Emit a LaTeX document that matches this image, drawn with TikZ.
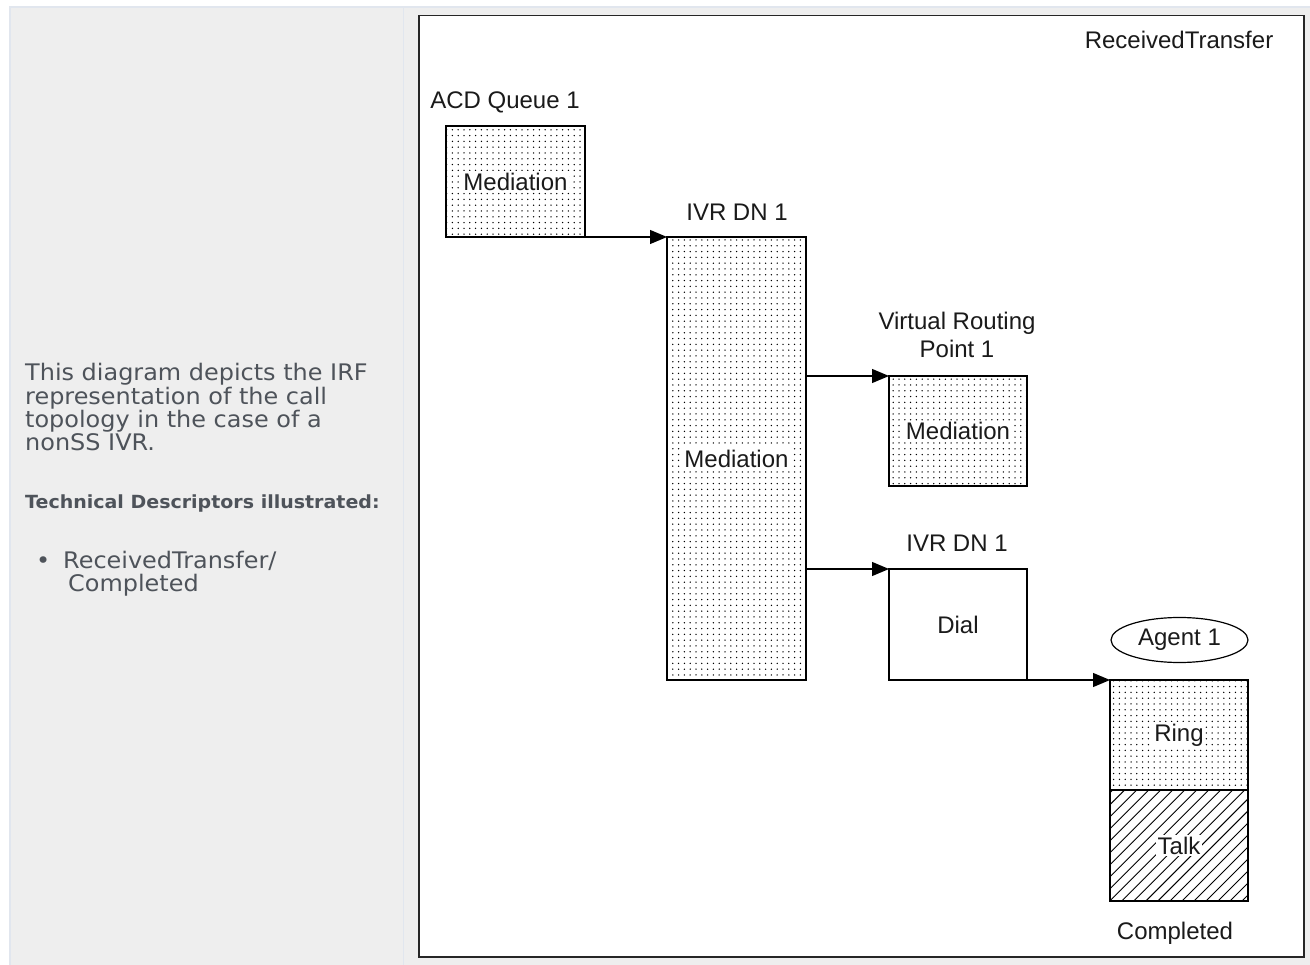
\documentclass[tikz,border=0pt]{standalone}
\usepackage{fontspec}
\setmainfont{Liberation Sans}
\newfontfamily\sidefont{DejaVu Sans}[FakeStretch=1.05]
\usetikzlibrary{positioning,patterns.meta,shapes.geometric,arrows.meta}
\definecolor{cellbg}{HTML}{EEEEEE}
\definecolor{cellline}{HTML}{E1E6EE}
\definecolor{sidetext}{HTML}{4E535A}
\definecolor{inktext}{HTML}{1A1A1A}
\tikzset{
  dn/.style={draw, line width=1.3pt, inner sep=0pt, outer sep=0pt, minimum width=138pt},
  dotdn/.style={dn, pattern={Dots[distance=5.8pt, radius=0.75pt]}},
  hatchdn/.style={dn, pattern={Lines[angle=45, distance=8.5pt, line width=0.9pt]}},
  lbl/.style={font=\fontsize{24}{28}\selectfont, text=inktext, align=center, inner sep=0pt},
  state/.style={lbl, fill=white, inner sep=1.5pt},
  flow/.style={-{Triangle[length=17pt, width=14pt]}, line width=1.2pt},
  sidebody/.style={font=\sidefont\fontsize{22.8}{23.3}\selectfont, text=sidetext, inner sep=0pt, anchor=base west},
}
\begin{document}
\begin{tikzpicture}[x=1pt, y=-1pt]
  \useasboundingbox (0,0) rectangle (1310,965);
  % page and the two table cells
  \fill[white] (0,0) rectangle (1310,965);
  \fill[cellbg] (10,7) rectangle (1310,965);
  \draw[cellline, line width=1.5pt] (10,965) -- (10,7) -- (1310,7);
  \draw[cellline, line width=1.5pt] (403.5,7) -- (403.5,965);
  % side description
  \foreach \y/\txt [count=\i] in {381/This diagram depicts the IRF,
      404.3/representation of the call, 427.6/topology in the case of a,
      450.9/nonSS IVR.}{
    \node[sidebody] (intro\i) at (25,\y) {\txt};
  }
  \node[sidebody, font=\sidefont\bfseries\fontsize{18.1}{20}\selectfont] (techhead) at (25,508.5) {Technical Descriptors illustrated:};
  \node[sidebody] (bullet) at (36,568) {•};
  \node[sidebody] (desc1) at (63,568) {ReceivedTransfer/};
  \node[sidebody] (desc2) at (68,591.5) {Completed};
  % diagram frame
  \fill[white] (419,15.5) rectangle (1304,957);
  \draw[line width=1.6pt, black!85] (419,15.5) rectangle (1304,957);
  \node[lbl] (rtitle) at (1179,40) {ReceivedTransfer};
  % parties
  \node[dotdn, minimum width=139pt, minimum height=111pt] (acd) at (515.5,181.5) {};
  \node[dotdn, minimum width=139pt, minimum height=443pt] (ivr) at (736.5,458.5) {};
  \node[dotdn, minimum height=110pt] (vrp) at (958,431) {};
  \node[dn, minimum height=111pt] (dial) at (958,624.5) {};
  \node[dotdn, minimum height=110pt] (ring) at (1179,735) {};
  \node[hatchdn, minimum height=111pt, below=0pt of ring] (talk) {};
  \node[draw, ellipse, line width=1.2pt, minimum width=137pt, minimum height=45pt,
        inner sep=0pt, font=\fontsize{24}{28}\selectfont, text=inktext] (agent) at (1179.5,640) {Agent 1};
  % party names
  \node[lbl] (acdname) at (505,102) {ACD Queue 1};
  \node[lbl] (ivrname) at (737,212) {IVR DN 1};
  \node[lbl] (vrpname) at (957,335) {Virtual Routing\\Point 1};
  \node[lbl] (dialname) at (957,543) {IVR DN 1};
  \node[lbl] (endname) at (1175,933) {Completed};
  % states
  \node[state] (acdstate) at (acd) {Mediation};
  \node[state] (ivrstate) at (ivr) {Mediation};
  \node[state] (vrpstate) at (vrp) {Mediation};
  \node[lbl] (dialstate) at (dial) {Dial};
  \node[state] (ringstate) at (ring) {Ring};
  \node[state] (talkstate) at (talk) {Talk};
  % transfers
  \draw[flow] (acd.south east) -- (ivr.north west);
  \draw[flow] (ivr.east |- vrp.north west) -- (vrp.north west);
  \draw[flow] (ivr.east |- dial.north west) -- (dial.north west);
  \draw[flow] (dial.south east) -- (ring.north west);
\end{tikzpicture}
\end{document}
